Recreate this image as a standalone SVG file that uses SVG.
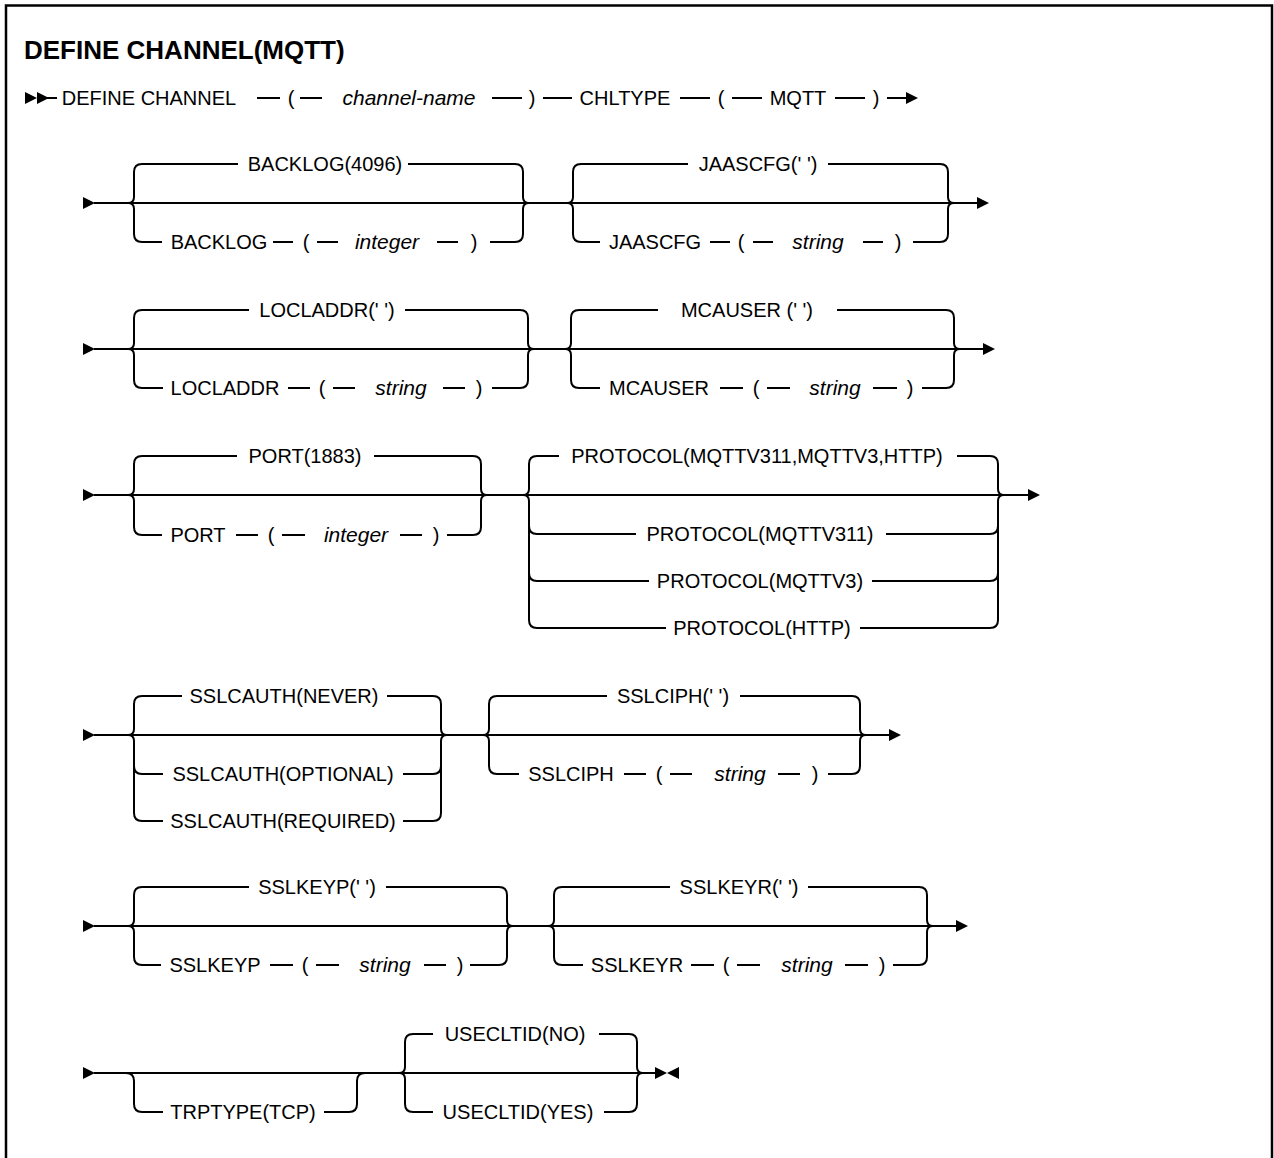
<svg xmlns="http://www.w3.org/2000/svg" xmlns:xlink="http://www.w3.org/1999/xlink" width="1274" height="1158" viewBox="0 0 1274 1158">
<style>
.ln{stroke:#000;stroke-width:2;fill:none}
.t{font-family:"Liberation Sans",Arial,sans-serif;font-size:20px;fill:#000;text-anchor:middle}
.i{font-style:italic;font-size:21px}
.title{font-family:"Liberation Sans",Arial,sans-serif;font-size:26px;font-weight:bold;fill:#000}
.ah{fill:#000}
</style>
<defs>
<path id="arr" class="ah" d="M0,-6 L12,0 L0,6 Z"/>
<path id="arrl" class="ah" d="M12,-6 L0,0 L12,6 Z"/>
</defs>
<rect width="1274" height="1158" fill="#fff"/>
<path d="M6,1160 V5.5 H1272 V1160" fill="none" stroke="#000" stroke-width="2.5"/>

<g id="title"><text class="title" x="24" y="59">DEFINE CHANNEL(MQTT)</text></g>

<g id="connectors">
<!-- row 0 -->
<use href="#arr" x="25" y="98"/><use href="#arr" x="37" y="98"/>
<path class="ln" d="M45,98 H57 M257,98 H280 M300,98 H322 M492,98 H522 M543,98 H572 M680,98 H710 M732,98 H762 M835,98 H865 M887,98 H907"/>
<use href="#arr" x="906" y="98"/>
<!-- row 1 -->
<use href="#arr" x="83" y="203"/>
<path class="ln" d="M94,203 H977"/>
<use href="#arr" x="977" y="203"/>
<path class="ln" d="M142,164 Q134,164 134,172 V197 Q134,203 128,203 M128,203 Q134,203 134,209 V234 Q134,242 142,242"/>
<path class="ln" d="M515,164 Q523,164 523,172 V197 Q523,203 529,203 M529,203 Q523,203 523,209 V234 Q523,242 515,242"/>
<path class="ln" d="M581,164 Q573,164 573,172 V197 Q573,203 567,203 M567,203 Q573,203 573,209 V234 Q573,242 581,242"/>
<path class="ln" d="M940,164 Q948,164 948,172 V197 Q948,203 954,203 M954,203 Q948,203 948,209 V234 Q948,242 940,242"/>
<path class="ln" d="M142,164 H238 M408,164 H515 M142,242 H162 M273,242 H293 M317,242 H338 M437,242 H458 M490,242 H515"/>
<path class="ln" d="M581,164 H688 M828,164 H940 M581,242 H600 M710,242 H730 M753,242 H773 M863,242 H883 M913,242 H940"/>
<!-- row 2 -->
<use href="#arr" x="83" y="349"/>
<path class="ln" d="M94,349 H983"/>
<use href="#arr" x="983" y="349"/>
<path class="ln" d="M142,310 Q134,310 134,318 V343 Q134,349 128,349 M128,349 Q134,349 134,355 V380 Q134,388 142,388"/>
<path class="ln" d="M520,310 Q528,310 528,318 V343 Q528,349 534,349 M534,349 Q528,349 528,355 V380 Q528,388 520,388"/>
<path class="ln" d="M579,310 Q571,310 571,318 V343 Q571,349 565,349 M565,349 Q571,349 571,355 V380 Q571,388 579,388"/>
<path class="ln" d="M946,310 Q954,310 954,318 V343 Q954,349 960,349 M960,349 Q954,349 954,355 V380 Q954,388 946,388"/>
<path class="ln" d="M142,310 H249 M405,310 H520 M142,388 H163 M288,388 H310 M333,388 H355 M443,388 H465 M492,388 H520"/>
<path class="ln" d="M579,310 H658 M837,310 H946 M579,388 H600 M720,388 H743 M767,388 H790 M873,388 H897 M922,388 H946"/>
<!-- row 3 -->
<use href="#arr" x="83" y="495"/>
<path class="ln" d="M94,495 H1028"/>
<use href="#arr" x="1028" y="495"/>
<path class="ln" d="M142,456 Q134,456 134,464 V489 Q134,495 128,495 M128,495 Q134,495 134,501 V527 Q134,535 142,535"/>
<path class="ln" d="M473,456 Q481,456 481,464 V489 Q481,495 487,495 M487,495 Q481,495 481,501 V527 Q481,535 473,535"/>
<path class="ln" d="M537,456 Q529,456 529,464 V489 Q529,495 523,495 M523,495 Q529,495 529,501 V620 Q529,628 537,628 M529,526 Q529,534 537,534 M529,573 Q529,581 537,581"/>
<path class="ln" d="M990,456 Q998,456 998,464 V489 Q998,495 1004,495 M1004,495 Q998,495 998,501 V620 Q998,628 990,628 M998,526 Q998,534 990,534 M998,573 Q998,581 990,581"/>
<path class="ln" d="M142,456 H237 M374,456 H473 M142,535 H162 M236,535 H258 M282,535 H305 M400,535 H422 M447,535 H473"/>
<path class="ln" d="M537,456 H559 M957,456 H990 M537,534 H636 M886,534 H990 M537,581 H649 M872,581 H990 M537,628 H666 M860,628 H990"/>
<!-- row 4 -->
<use href="#arr" x="83" y="735"/>
<path class="ln" d="M94,735 H889"/>
<use href="#arr" x="889" y="735"/>
<path class="ln" d="M142,696 Q134,696 134,704 V729 Q134,735 128,735 M128,735 Q134,735 134,741 V813 Q134,821 142,821 M134,766 Q134,774 142,774"/>
<path class="ln" d="M433,696 Q441,696 441,704 V729 Q441,735 447,735 M447,735 Q441,735 441,741 V813 Q441,821 433,821 M441,766 Q441,774 433,774"/>
<path class="ln" d="M497,696 Q489,696 489,704 V729 Q489,735 483,735 M483,735 Q489,735 489,741 V766 Q489,774 497,774"/>
<path class="ln" d="M852,696 Q860,696 860,704 V729 Q860,735 866,735 M866,735 Q860,735 860,741 V766 Q860,774 852,774"/>
<path class="ln" d="M142,696 H182 M387,696 H433 M142,774 H163 M403,774 H433 M142,821 H163 M403,821 H433"/>
<path class="ln" d="M497,696 H607 M740,696 H852 M497,774 H519 M624,774 H646 M670,774 H692 M778,774 H800 M828,774 H852"/>
<!-- row 5 -->
<use href="#arr" x="83" y="926"/>
<path class="ln" d="M94,926 H956"/>
<use href="#arr" x="956" y="926"/>
<path class="ln" d="M142,887 Q134,887 134,895 V920 Q134,926 128,926 M128,926 Q134,926 134,932 V957 Q134,965 142,965"/>
<path class="ln" d="M499,887 Q507,887 507,895 V920 Q507,926 513,926 M513,926 Q507,926 507,932 V957 Q507,965 499,965"/>
<path class="ln" d="M562,887 Q554,887 554,895 V920 Q554,926 548,926 M548,926 Q554,926 554,932 V957 Q554,965 562,965"/>
<path class="ln" d="M919,887 Q927,887 927,895 V920 Q927,926 933,926 M933,926 Q927,926 927,932 V957 Q927,965 919,965"/>
<path class="ln" d="M142,887 H249 M386,887 H499 M142,965 H161 M270,965 H293 M316,965 H339 M424,965 H446 M470,965 H499"/>
<path class="ln" d="M562,887 H670 M808,887 H919 M562,965 H583 M691,965 H714 M737,965 H760 M845,965 H868 M893,965 H919"/>
<!-- row 6 -->
<use href="#arr" x="83" y="1073"/>
<path class="ln" d="M94,1073 H655"/>
<path class="ln" d="M126,1073 Q134,1073 134,1081 V1104 Q134,1112 142,1112 H163 M324,1112 H349 Q357,1112 357,1104 V1081 Q357,1073 365,1073"/>
<path class="ln" d="M413,1034 Q405,1034 405,1042 V1067 Q405,1073 399,1073 M399,1073 Q405,1073 405,1079 V1104 Q405,1112 413,1112"/>
<path class="ln" d="M629,1034 Q637,1034 637,1042 V1067 Q637,1073 643,1073 M643,1073 Q637,1073 637,1079 V1104 Q637,1112 629,1112"/>
<path class="ln" d="M413,1034 H433 M599,1034 H629 M413,1112 H433 M604,1112 H629"/>
<use href="#arr" x="655" y="1073"/><use href="#arrl" x="667" y="1073"/>
</g>

<!-- row 0 nodes -->
<g id="n-define"><text class="t" x="149" y="105">DEFINE CHANNEL</text></g>
<g id="n-lp0"><text class="t" x="291" y="105">(</text></g>
<g id="n-channel-name"><text class="t i" x="409" y="105">channel-name</text></g>
<g id="n-rp0"><text class="t" x="532" y="105">)</text></g>
<g id="n-chltype"><text class="t" x="625" y="105">CHLTYPE</text></g>
<g id="n-lp0b"><text class="t" x="721" y="105">(</text></g>
<g id="n-mqtt"><text class="t" x="798" y="105">MQTT</text></g>
<g id="n-rp0b"><text class="t" x="876" y="105">)</text></g>

<!-- row 1 -->
<g id="n-backlog-def"><text class="t" x="325" y="171">BACKLOG(4096)</text></g>
<g id="n-backlog"><text class="t" x="219" y="249">BACKLOG</text><text class="t" x="306" y="249">(</text><text class="t i" x="387" y="249">integer</text><text class="t" x="474" y="249">)</text></g>
<g id="n-jaascfg-def"><text class="t" x="758" y="171">JAASCFG(' ')</text></g>
<g id="n-jaascfg"><text class="t" x="655" y="249">JAASCFG</text><text class="t" x="741" y="249">(</text><text class="t i" x="818" y="249">string</text><text class="t" x="898" y="249">)</text></g>

<!-- row 2 -->
<g id="n-locladdr-def"><text class="t" x="327" y="317">LOCLADDR(' ')</text></g>
<g id="n-locladdr"><text class="t" x="225" y="395">LOCLADDR</text><text class="t" x="322" y="395">(</text><text class="t i" x="401" y="395">string</text><text class="t" x="479" y="395">)</text></g>
<g id="n-mcauser-def"><text class="t" x="747" y="317">MCAUSER (' ')</text></g>
<g id="n-mcauser"><text class="t" x="659" y="395">MCAUSER</text><text class="t" x="756" y="395">(</text><text class="t i" x="835" y="395">string</text><text class="t" x="910" y="395">)</text></g>

<!-- row 3 -->
<g id="n-port-def"><text class="t" x="305" y="463">PORT(1883)</text></g>
<g id="n-port"><text class="t" x="198" y="542">PORT</text><text class="t" x="271" y="542">(</text><text class="t i" x="356" y="542">integer</text><text class="t" x="436" y="542">)</text></g>
<g id="n-protocol-def"><text class="t" x="757" y="463">PROTOCOL(MQTTV311,MQTTV3,HTTP)</text></g>
<g id="n-protocol-311"><text class="t" x="760" y="541">PROTOCOL(MQTTV311)</text></g>
<g id="n-protocol-3"><text class="t" x="760" y="588">PROTOCOL(MQTTV3)</text></g>
<g id="n-protocol-http"><text class="t" x="762" y="635">PROTOCOL(HTTP)</text></g>

<!-- row 4 -->
<g id="n-sslcauth-never"><text class="t" x="284" y="703">SSLCAUTH(NEVER)</text></g>
<g id="n-sslcauth-optional"><text class="t" x="283" y="781">SSLCAUTH(OPTIONAL)</text></g>
<g id="n-sslcauth-required"><text class="t" x="283" y="828">SSLCAUTH(REQUIRED)</text></g>
<g id="n-sslciph-def"><text class="t" x="673" y="703">SSLCIPH(' ')</text></g>
<g id="n-sslciph"><text class="t" x="571" y="781">SSLCIPH</text><text class="t" x="659" y="781">(</text><text class="t i" x="740" y="781">string</text><text class="t" x="815" y="781">)</text></g>

<!-- row 5 -->
<g id="n-sslkeyp-def"><text class="t" x="317" y="894">SSLKEYP(' ')</text></g>
<g id="n-sslkeyp"><text class="t" x="215" y="972">SSLKEYP</text><text class="t" x="305" y="972">(</text><text class="t i" x="385" y="972">string</text><text class="t" x="460" y="972">)</text></g>
<g id="n-sslkeyr-def"><text class="t" x="739" y="894">SSLKEYR(' ')</text></g>
<g id="n-sslkeyr"><text class="t" x="637" y="972">SSLKEYR</text><text class="t" x="726" y="972">(</text><text class="t i" x="807" y="972">string</text><text class="t" x="882" y="972">)</text></g>

<!-- row 6 -->
<g id="n-trptype"><text class="t" x="243" y="1119">TRPTYPE(TCP)</text></g>
<g id="n-usecltid-no"><text class="t" x="515" y="1041">USECLTID(NO)</text></g>
<g id="n-usecltid-yes"><text class="t" x="518" y="1119">USECLTID(YES)</text></g>
</svg>
